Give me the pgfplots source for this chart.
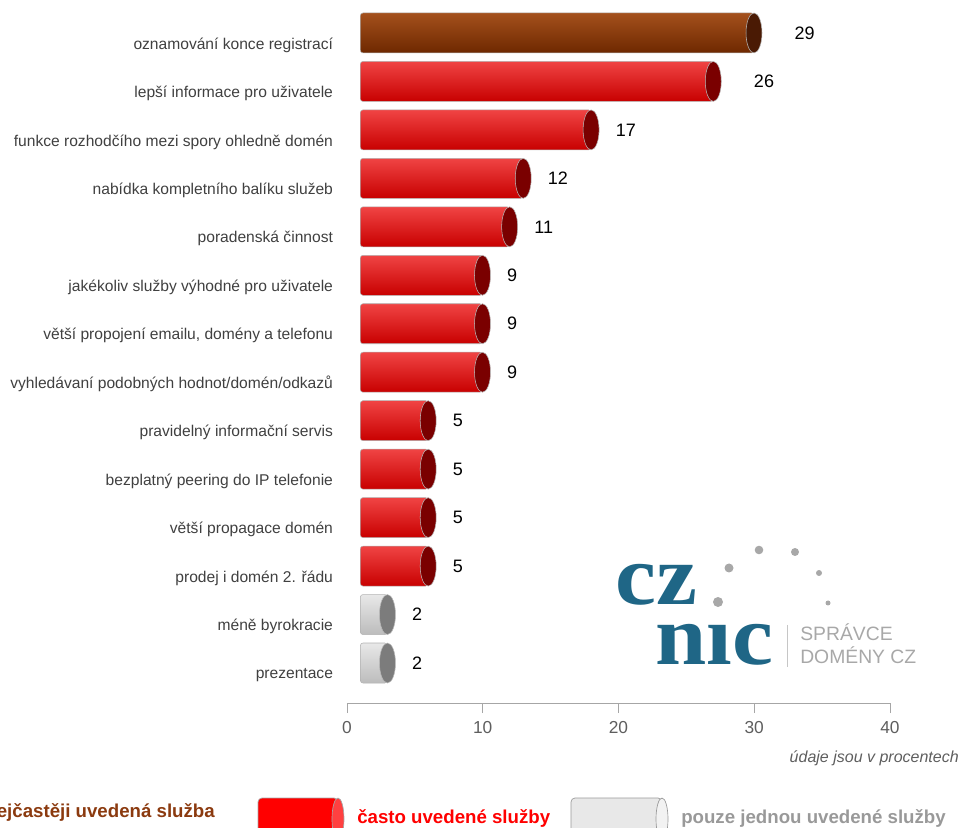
\documentclass[border=0pt]{standalone}
\usepackage{pgfplots}
\pgfplotsset{compat=1.18}
\usepackage{fontspec}
\setmainfont{Liberation Sans}
\newfontfamily\logoserif{Liberation Serif}

\definecolor{brtop}{HTML}{A4501C}
\definecolor{brmid}{HTML}{8B3A0F}
\definecolor{brbot}{HTML}{6E2800}
\definecolor{brcap}{HTML}{4A1A04}
\definecolor{rdtop}{HTML}{F04444}
\definecolor{rdmid}{HTML}{FF0A0A}
\definecolor{rdbot}{HTML}{C80000}
\definecolor{rdcap}{HTML}{7A0000}
\definecolor{grtop}{HTML}{E8E8E8}
\definecolor{grmid}{HTML}{D8D8D8}
\definecolor{grbot}{HTML}{BCBCBC}
\definecolor{grcap}{HTML}{7C7C7C}
\definecolor{labgray}{HTML}{404040}
\definecolor{tickgray}{HTML}{5E5E5E}
\definecolor{teal}{HTML}{1F6686}
\definecolor{dotgray}{HTML}{A8A8A8}

% values for the caps and labels, categories bottom to top:
% 0 = prezentace ... 13 = oznamovani konce registraci
\pgfplotstableread{
y v
13 29
}\topdata
\pgfplotstableread{
y v
12 26
}\seconddata
\pgfplotstableread{
y v
11 17
10 12
9 11
8 9
7 9
6 9
5 5
4 5
3 5
2 5
}\reddata
\pgfplotstableread{
y v
1 2
0 2
}\greydata

\pgfplotsset{
  cyl/.style={xbar, bar shift=0pt, bar width=30pt, xshift=10pt,
    draw=gray!60, line width=0.4pt, rounded corners=2pt},
  brbar/.style={cyl, top color=brtop, middle color=brmid, bottom color=brbot},
  rdbar/.style={cyl, top color=rdtop, middle color=rdmid, bottom color=rdbot},
  grbar/.style={cyl, top color=grtop, middle color=grmid, bottom color=grbot},
  cap/.style={only marks, mark=*, mark size=15pt, xshift=10pt,
    mark options={xscale=0.4, fill=#1, draw=gray!55, line width=0.4pt},
    point meta=x, nodes near coords,
    every node near coord/.append style={anchor=west, xshift=15pt,
      font=\fontsize{13.5}{15}\selectfont, text=black}},
}

\begin{document}
\begin{tikzpicture}
\begin{axis}[
  at={(0,0)}, anchor=south west,
  scale only axis, width=407.25pt, height=527.25pt,
  xmin=0, xmax=40, ymin=-0.825, ymax=13.68,
  axis x line*=bottom, axis y line*=left,
  y axis line style={draw=none},
  x axis line style={color=gray!70, line width=0.6pt},
  xtick={0,10,...,40}, xtick align=outside, major tick length=7.5pt,
  xtick style={gray!70, line width=0.6pt},
  ytick={0,...,13}, ytick style={draw=none},
  yticklabels={prezentace, méně byrokracie, prodej i domén 2. řádu,
    větší propagace domén, bezplatný peering do IP telefonie,
    pravidelný informační servis,
    vyhledávaní podobných hodnot/domén/odkazů,
    {větší propojení emailu, domény a telefonu},
    jakékoliv služby výhodné pro uživatele, poradenská činnost,
    nabídka kompletního balíku služeb,
    funkce rozhodčího mezi spory ohledně domén,
    lepší informace pro uživatele, oznamování konce registrací},
  yticklabel style={font=\fontsize{11.7}{13}\selectfont, text=labgray,
    xshift=-7pt, yshift=-9pt},
  xticklabel style={font=\fontsize{13}{15}\selectfont, text=tickgray, yshift=-3pt},
  /pgf/number format/assume math mode=true,
  clip=false,
]
% one plot per bar, so that every cylinder gets its own shading
\addplot[brbar] coordinates {(29,13)};
\addplot[rdbar] coordinates {(26,12)};
\addplot[rdbar] coordinates {(17,11)};
\addplot[rdbar] coordinates {(12,10)};
\addplot[rdbar] coordinates {(11,9)};
\addplot[rdbar] coordinates {(9,8)};
\addplot[rdbar] coordinates {(9,7)};
\addplot[rdbar] coordinates {(9,6)};
\addplot[rdbar] coordinates {(5,5)};
\addplot[rdbar] coordinates {(5,4)};
\addplot[rdbar] coordinates {(5,3)};
\addplot[rdbar] coordinates {(5,2)};
\addplot[grbar] coordinates {(2,1)};
\addplot[grbar] coordinates {(2,0)};

\addplot[cap=brcap, every node near coord/.append style={xshift=12pt}] table[x=v, y=y] {\topdata};
\addplot[cap=rdcap, every node near coord/.append style={xshift=12pt}] table[x=v, y=y] {\seconddata};
\addplot[cap=rdcap] table[x=v, y=y] {\reddata};
\addplot[cap=grcap] table[x=v, y=y] {\greydata};
\end{axis}

% pixel grid of the reference: origin top left, y down
\begin{scope}[shift={(-260.25pt,527.25pt)}, x=0.75pt, y=-0.75pt]
  \node[anchor=base east, inner sep=0, font=\fontsize{12}{14}\selectfont\itshape, text=tickgray]
    at (959,762) {údaje jsou v procentech};

  % logo
  \node[anchor=base west, inner sep=0, font=\logoserif\bfseries\fontsize{64}{64}\selectfont,
    text=teal, xscale=1.08] at (615,605) {cz};
  \node[anchor=base west, inner sep=0, font=\logoserif\bfseries\fontsize{64}{64}\selectfont,
    text=teal, xscale=1.08] at (655,665) {nıc};
  \fill[dotgray] (759,550) circle[radius=4.3];
  \fill[dotgray] (795,552) circle[radius=4];
  \fill[dotgray] (729,568) circle[radius=4.5];
  \fill[dotgray] (819,573) circle[radius=3];
  \fill[dotgray] (718,602) circle[radius=5];
  \fill[dotgray] (828,603) circle[radius=2.5];
  \draw[gray!45, line width=0.6pt] (787,625) -- (787,667);
  \node[anchor=base west, inner sep=0, font=\fontsize{14.5}{15}\selectfont, text=dotgray]
    at (800,641) {SPRÁVCE};
  \node[anchor=base west, inner sep=0, font=\fontsize{14.5}{15}\selectfont, text=dotgray]
    at (800,664) {DOMÉNY CZ};

  % legend
  \node[anchor=base east, inner sep=0, font=\bfseries\fontsize{14}{16}\selectfont, text=brmid]
    at (215,817) {nejčastěji uvedená služba};
  \draw[gray!70, fill=red, rounded corners=3pt, line width=0.5pt] (258,798) rectangle (338,840);
  \draw[gray!70, fill=red!75!white, line width=0.5pt] (338,819) ellipse[x radius=6, y radius=21];
  \node[anchor=base west, inner sep=0, font=\bfseries\fontsize{14}{16}\selectfont, text=red]
    at (357,823) {často uvedené služby};
  \draw[gray!80, fill=gray!18, rounded corners=3pt, line width=0.5pt] (571,798) rectangle (662,840);
  \draw[gray!80, fill=gray!10, line width=0.5pt] (662,819) ellipse[x radius=6, y radius=21];
  \node[anchor=base west, inner sep=0, font=\bfseries\fontsize{14}{16}\selectfont, text=gray!80]
    at (681,823) {pouze jednou uvedené služby};

  \pgfresetboundingbox
  \useasboundingbox (0,0) rectangle (962,827);
\end{scope}
\end{tikzpicture}
\end{document}
